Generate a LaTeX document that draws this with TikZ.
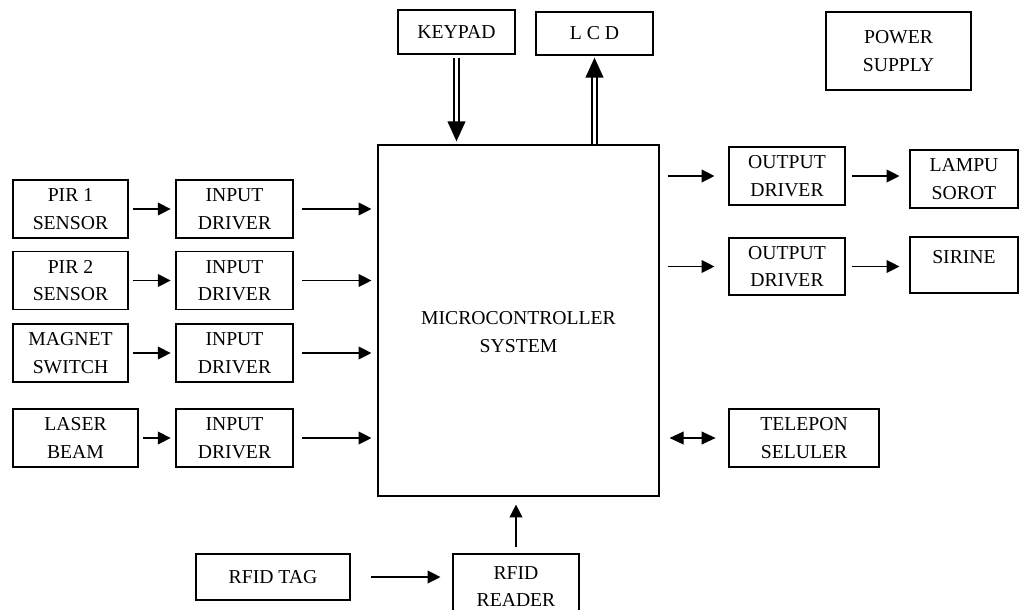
\documentclass[tikz,border=0pt]{standalone}
\usepackage{fontspec}
\setmainfont{Liberation Serif}
\usetikzlibrary{arrows.meta,calc}
\newcommand{\pxu}{0.25mm}
\tikzset{
	blk/.style={draw, line width=0.8pt, inner sep=0pt, align=center},
	pfeil/.style={line width=0.8pt, -{Triangle[length=3.2mm, width=3.2mm]}},
	dpfeil/.style={line width=1.5pt, double, double distance=1.6pt, -{Triangle[length=5mm, width=4.4mm]}}
}

\begin{document}
\begin{tikzpicture}[x=0.25mm, y=-0.25mm, font=\fontsize{14pt}{19.5pt}\selectfont]
		% Bildbereich
		\useasboundingbox (0,0) rectangle (1020,609);
		% Mikrocontroller
		\node[blk, minimum width=281*\pxu, minimum height=351*\pxu] (mcu) at (518.5,320.5)
			{\raisebox{0pt}[41pt][16pt]{\begin{tabular}{@{}c@{}}MICROCONTROLLER\\SYSTEM\end{tabular}}};
		% oben
		\node[blk, minimum width=117*\pxu, minimum height=44*\pxu] (kp) at (456.5,32) {KEYPAD};
		\node[blk, minimum width=117*\pxu, minimum height=43*\pxu] (lcd) at (594.5,33.5) {L C D};
		\node[blk, minimum width=145*\pxu, minimum height=78*\pxu] (ps) at (898.5,51) {POWER\\SUPPLY};
		\draw[dpfeil, shorten <=0.75mm, shorten >=0.75mm] (kp.south) -- (kp.south |- mcu.north);
		\draw[dpfeil, shorten >=0.5mm] (lcd.south |- mcu.north) -- (lcd.south);
		% Eingaenge
		\foreach \i/\y/\w/\txt in {1/209/115/{PIR 1\\SENSOR}, 2/280.5/115/{PIR 2\\SENSOR},
				3/353/115/{MAGNET\\SWITCH}, 4/438/125/{LASER\\BEAM}} {
			\node[blk, minimum width=\w*\pxu, minimum height=58*\pxu] (sens\i) at (13+\w/2,\y) {\txt};
			\node[blk, minimum width=117*\pxu, minimum height=58*\pxu] (drv\i) at (234.5,\y) {INPUT\\DRIVER};
			\draw[pfeil, shorten <=1.1mm, shorten >=1.2mm] (sens\i.east) -- (drv\i.west);
			\draw[pfeil, shorten <=2.2mm, shorten >=1.5mm] (drv\i.east) -- (drv\i.east -| mcu.west);
		}
		% Ausgaenge
		\node[blk, minimum width=116*\pxu, minimum height=58*\pxu] (out1) at (787,176) {OUTPUT\\DRIVER};
		\node[blk, minimum width=108*\pxu, minimum height=58*\pxu] (lampu) at (964,179) {LAMPU\\SOROT};
		\node[blk, minimum width=116*\pxu, minimum height=57*\pxu] (out2) at (787,266.5) {OUTPUT\\DRIVER};
		\node[blk, minimum width=108*\pxu, minimum height=56*\pxu] (sirine) at (964,265) {\raisebox{4mm}{SIRINE}};
		\node[blk, minimum width=150*\pxu, minimum height=58*\pxu] (telp) at (804,438) {TELEPON\\SELULER};
		\foreach \o/\z in {out1/lampu, out2/sirine} {
			\draw[pfeil, shorten <=2mm, shorten >=3.5mm] (mcu.east |- \o) -- (\o.west);
			\draw[pfeil, shorten <=1.7mm, shorten >=2.5mm] (\o.east) -- (\o.east -| \z.west);
		}
		\draw[pfeil, {Triangle[length=3.5mm, width=3.2mm]}-{Triangle[length=3.5mm, width=3.2mm]},
			shorten <=2.5mm, shorten >=3.2mm] (mcu.east |- telp) -- (telp.west);
		% RFID
		\node[blk, minimum width=154*\pxu, minimum height=46*\pxu] (tag) at (273,577) {RFID TAG};
		\node[blk, minimum width=126*\pxu, minimum height=65*\pxu] (reader) at (516,586.5) {RFID\\READER};
		\draw[pfeil, shorten <=5.2mm, shorten >=3mm] (tag.east) -- (tag.east -| reader.west);
		\draw[pfeil, shorten <=1.5mm, shorten >=2mm] (reader.north) -- (reader.north |- mcu.south);
\end{tikzpicture}
\end{document}
